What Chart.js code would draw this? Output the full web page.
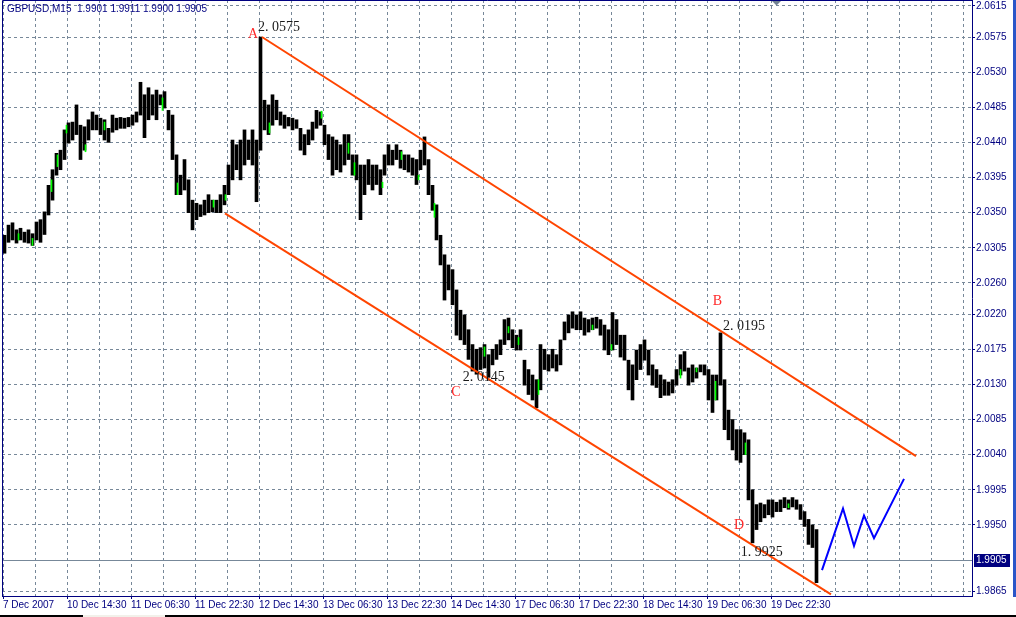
<!DOCTYPE html>
<html>
<head>
<meta charset="utf-8">
<script src="https://cdn.jsdelivr.net/npm/chart.js@4.4.0/dist/chart.umd.min.js"></script>
<style>
html, body { margin: 0; padding: 0; background: #fff; }
#wrap { width: 1016px; height: 617px; }
</style>
</head>
<body>
<div id="wrap"><canvas id="chart-area" width="1016" height="617"></canvas></div>
<script>
/*---------------------------------
   DATOS
 ----------------------------------*/
var chartTitle = 'GBPUSD,M15  1.9901 1.9911 1.9900 1.9905';
var lastPrice = 1.9905;
var lastPriceLabel = '1.9905';

var xTickLabels = ['7 Dec 2007', '10 Dec 14:30', '11 Dec 06:30', '11 Dec 22:30', '12 Dec 14:30',
    '13 Dec 06:30', '13 Dec 22:30', '14 Dec 14:30', '17 Dec 06:30', '17 Dec 22:30',
    '18 Dec 14:30', '19 Dec 06:30', '19 Dec 22:30'];
var yTickLabels = ['2.0615', '2.0575', '2.0530', '2.0485', '2.0440', '2.0395', '2.0350', '2.0305',
    '2.0260', '2.0220', '2.0175', '2.0130', '2.0085', '2.0040', '1.9995', '1.9950', '1.9865'];

// hourly highs / lows (4 bars per hour)
var hourHigh = [
    2.0321, 2.0334, 2.0337, 2.0328, 2.0330, 2.0325, 2.0328, 2.0323, 2.0338, 2.0341,
    2.0351, 2.0385, 2.0405, 2.0426, 2.0430, 2.0456, 2.0465, 2.0466, 2.0488, 2.0462,
    2.0460, 2.0469, 2.0479, 2.0475, 2.0471, 2.0469, 2.0458, 2.0475, 2.0471, 2.0472,
    2.0471, 2.0472, 2.0475, 2.0479, 2.0517, 2.0501, 2.0510, 2.0501, 2.0507, 2.0501,
    2.0505, 2.0481, 2.0475, 2.0424, 2.0398, 2.0418, 2.0392, 2.0366, 2.0362, 2.0360,
    2.0366, 2.0373, 2.0366, 2.0366, 2.0373, 2.0385, 2.0411, 2.0443, 2.0437, 2.0443,
    2.0456, 2.0443, 2.0456, 2.0443, 2.0575, 2.0494, 2.0488, 2.0501, 2.0494, 2.0479,
    2.0475, 2.0472, 2.0471, 2.0469, 2.0458, 2.0450, 2.0456, 2.0466, 2.0481, 2.0479,
    2.0462, 2.0450, 2.0447, 2.0443, 2.0437, 2.0450, 2.0450, 2.0424, 2.0424, 2.0411,
    2.0411, 2.0418, 2.0411, 2.0411, 2.0405, 2.0424, 2.0437, 2.0430, 2.0437, 2.0430,
    2.0424, 2.0424, 2.0420, 2.0418, 2.0430, 2.0447, 2.0418, 2.0385, 2.0360, 2.0321,
    2.0296, 2.0283, 2.0277, 2.0251, 2.0225, 2.0219, 2.0200, 2.0181, 2.0175, 2.0177,
    2.0181, 2.0168, 2.0175, 2.0181, 2.0187, 2.0213, 2.0215, 2.0200, 2.0193, 2.0200,
    2.0161, 2.0149, 2.0142, 2.0136, 2.0181, 2.0175, 2.0168, 2.0175, 2.0168, 2.0187,
    2.0210, 2.0219, 2.0223, 2.0219, 2.0223, 2.0215, 2.0213, 2.0215, 2.0216, 2.0213,
    2.0206, 2.0200, 2.0222, 2.0213, 2.0193, 2.0193, 2.0161, 2.0155, 2.0174, 2.0181,
    2.0187, 2.0174, 2.0155, 2.0149, 2.0142, 2.0136, 2.0133, 2.0136, 2.0149, 2.0168,
    2.0172, 2.0151, 2.0155, 2.0151, 2.0155, 2.0155, 2.0149, 2.0142, 2.0142, 2.0196,
    2.0136, 2.0097, 2.0085, 2.0072, 2.0072, 2.0068, 2.0059, 1.9995, 1.9976, 1.9978,
    1.9976, 1.9982, 1.9982, 1.9979, 1.9982, 1.9985, 1.9982, 1.9985, 1.9982, 1.9976,
    1.9967, 1.9957, 1.9950, 1.9944
];
var hourLow = [
    2.0298, 2.0312, 2.0315, 2.0311, 2.0315, 2.0312, 2.0311, 2.0308, 2.0315, 2.0312,
    2.0322, 2.0347, 2.0366, 2.0398, 2.0405, 2.0418, 2.0439, 2.0443, 2.0450, 2.0418,
    2.0430, 2.0443, 2.0456, 2.0456, 2.0450, 2.0443, 2.0440, 2.0453, 2.0456, 2.0458,
    2.0458, 2.0460, 2.0462, 2.0466, 2.0475, 2.0446, 2.0469, 2.0475, 2.0469, 2.0488,
    2.0484, 2.0456, 2.0418, 2.0373, 2.0373, 2.0379, 2.0350, 2.0328, 2.0341, 2.0345,
    2.0347, 2.0350, 2.0351, 2.0350, 2.0350, 2.0360, 2.0373, 2.0392, 2.0405, 2.0392,
    2.0411, 2.0418, 2.0411, 2.0364, 2.0430, 2.0456, 2.0450, 2.0462, 2.0469, 2.0462,
    2.0458, 2.0461, 2.0456, 2.0458, 2.0430, 2.0424, 2.0437, 2.0443, 2.0458, 2.0462,
    2.0437, 2.0418, 2.0398, 2.0405, 2.0402, 2.0411, 2.0418, 2.0398, 2.0392, 2.0341,
    2.0373, 2.0386, 2.0379, 2.0386, 2.0373, 2.0398, 2.0411, 2.0411, 2.0418, 2.0407,
    2.0405, 2.0402, 2.0398, 2.0386, 2.0405, 2.0411, 2.0373, 2.0353, 2.0315, 2.0283,
    2.0238, 2.0251, 2.0232, 2.0193, 2.0187, 2.0181, 2.0162, 2.0147, 2.0143, 2.0149,
    2.0151, 2.0139, 2.0155, 2.0162, 2.0168, 2.0181, 2.0187, 2.0177, 2.0174, 2.0174,
    2.0129, 2.0117, 2.0110, 2.0100, 2.0123, 2.0149, 2.0147, 2.0151, 2.0147, 2.0155,
    2.0187, 2.0196, 2.0202, 2.0200, 2.0200, 2.0193, 2.0197, 2.0200, 2.0202, 2.0193,
    2.0174, 2.0168, 2.0174, 2.0181, 2.0165, 2.0161, 2.0123, 2.0110, 2.0136, 2.0149,
    2.0161, 2.0142, 2.0129, 2.0126, 2.0113, 2.0116, 2.0116, 2.0119, 2.0129, 2.0142,
    2.0147, 2.0129, 2.0133, 2.0138, 2.0146, 2.0142, 2.0110, 2.0094, 2.0110, 2.0129,
    2.0072, 2.0059, 2.0046, 2.0033, 2.0030, 2.0040, 1.9982, 1.9927, 1.9944, 1.9954,
    1.9959, 1.9963, 1.9960, 1.9967, 1.9967, 1.9972, 1.9970, 1.9973, 1.9970, 1.9957,
    1.9948, 1.9925, 1.9921, 1.9876
];

// green M15 bars: [bar number, high, low]
var greenBars = [
    [15, 2.0323, 2.0315], [29, 2.0317, 2.0308], [48, 2.0392, 2.0377], [54, 2.0424, 2.0409],
    [63, 2.0462, 2.0452], [82, 2.0437, 2.0428], [101, 2.0466, 2.0456], [159, 2.0497, 2.0481],
    [174, 2.0388, 2.0373], [210, 2.0366, 2.0357], [222, 2.0373, 2.0366], [266, 2.0465, 2.0452],
    [318, 2.0480, 2.0471], [345, 2.0439, 2.0426], [351, 2.0414, 2.0398], [379, 2.0389, 2.0382],
    [398, 2.0428, 2.0418], [415, 2.0398, 2.0392], [431, 2.0362, 2.0344], [481, 2.0178, 2.0166],
    [505, 2.0204, 2.0196], [515, 2.0190, 2.0181], [535, 2.0136, 2.0117], [589, 2.0206, 2.0200],
    [608, 2.0181, 2.0174], [677, 2.0149, 2.0138], [693, 2.0151, 2.0146], [712, 2.0134, 2.0110],
    [742, 2.0055, 2.0040], [785, 1.9977, 1.9972]
];

// trend lines: [bar number, price]
var upperChannel = [[259, 2.0575], [913, 2.0038]];
var lowerChannel = [[222, 2.0349], [828, 1.9861]];
var forecastPath = [[819, 1.9892], [840, 1.9971], [851, 1.9923], [861, 1.9962], [871, 1.9933], [901, 2.0009]];

// wave marks: [text, bar number, price]
var waveLetters = [['A', 250, 2.0578], ['B', 714.5, 2.0236], ['C', 453, 2.0120], ['D', 736, 1.9950]];
var wavePrices = [['2. 0575', 255, 2.0588], ['2. 0195', 720, 2.0205], ['2. 0145', 459.7, 2.0139], ['1. 9925', 737.7, 1.9915]];

/*---------------------------------
   PREPARAR SERIES
 ----------------------------------*/
function toPoint(p) { return { x: p[0], y: p[1] }; }

var priceBars = hourHigh.map(function(h, i) {
    return { x: i * 4 + 1.5, y: [hourLow[i], h] };
});
var greenPoints = greenBars.map(function(g) {
    return { x: g[0] + 0.5, y: [g[2], g[1]] };
});

var NAVY = '#000080';
var GRID = '#778899';
var axisFont = { family: 'Liberation Sans', size: 10 };

/*---------------------------------
   PLUGIN: MARCO, TEXTOS, PRECIO
 ----------------------------------*/
var mtDecor = {
    id: 'mtDecor',
    beforeDatasetsDraw: function(chart) {
        var ctx = chart.ctx, a = chart.chartArea;
        var py = Math.round(chart.scales.y.getPixelForValue(lastPrice)) + 0.5;
        ctx.save();
        ctx.strokeStyle = GRID;
        ctx.lineWidth = 1;
        ctx.beginPath();
        ctx.moveTo(a.left, py);
        ctx.lineTo(a.right, py);
        ctx.stroke();
        ctx.restore();
    },
    afterDatasetsDraw: function(chart) {
        var ctx = chart.ctx, xs = chart.scales.x, ys = chart.scales.y;
        ctx.save();
        ctx.textBaseline = 'middle';
        ctx.font = '14px "Liberation Serif"';
        ctx.fillStyle = '#ff2a2a';
        ctx.textAlign = 'center';
        waveLetters.forEach(function(w) {
            ctx.fillText(w[0], xs.getPixelForValue(w[1]), ys.getPixelForValue(w[2]));
        });
        ctx.fillStyle = '#1a1a1a';
        ctx.textAlign = 'left';
        wavePrices.forEach(function(w) {
            ctx.fillText(w[0], xs.getPixelForValue(w[1]), ys.getPixelForValue(w[2]));
        });
        ctx.restore();
    },
    afterDraw: function(chart) {
        var ctx = chart.ctx, a = chart.chartArea;
        ctx.save();
        // frame
        ctx.strokeStyle = NAVY;
        ctx.lineWidth = 1;
        ctx.beginPath();
        ctx.moveTo(a.left + 0.5, a.bottom);
        ctx.lineTo(a.left + 0.5, 0.5);
        ctx.lineTo(a.right, 0.5);
        ctx.stroke();
        // title
        ctx.fillStyle = NAVY;
        ctx.font = '10px "Liberation Sans"';
        ctx.textBaseline = 'middle';
        ctx.textAlign = 'left';
        ctx.fillText(chartTitle, 7, 9);
        // shift marker
        ctx.fillStyle = '#708090';
        ctx.beginPath();
        ctx.moveTo(772, 1);
        ctx.lineTo(781, 1);
        ctx.lineTo(776.5, 5.5);
        ctx.closePath();
        ctx.fill();
        // current price box
        var py = Math.round(chart.scales.y.getPixelForValue(lastPrice));
        ctx.fillStyle = NAVY;
        ctx.fillRect(a.right + 2, py - 6, 36, 13);
        ctx.fillStyle = '#ffffff';
        ctx.fillText(lastPriceLabel, a.right + 4, py + 0.5);
        // window edges
        ctx.fillStyle = '#2a56c8';
        ctx.fillRect(1013, 0, 3, 597);
        ctx.fillStyle = '#000000';
        ctx.fillRect(0, 615, 1016, 2);
        ctx.fillStyle = '#f2f1ea';
        ctx.fillRect(83, 615, 82, 2);
        ctx.restore();
    }
};

/*---------------------------------
   CONFIG
 ----------------------------------*/
var config = {
    type: 'bar',
    data: {
        datasets: [{
            type: 'line',
            data: forecastPath.map(toPoint),
            borderColor: '#0000ff',
            borderWidth: 2,
            pointRadius: 0,
            tension: 0,
            order: 0
        }, {
            type: 'line',
            data: upperChannel.map(toPoint),
            borderColor: '#ff4500',
            borderWidth: 2,
            pointRadius: 0,
            order: 1
        }, {
            type: 'line',
            data: lowerChannel.map(toPoint),
            borderColor: '#ff4500',
            borderWidth: 2,
            pointRadius: 0,
            order: 1
        }, {
            data: greenPoints,
            backgroundColor: '#00ff00',
            barThickness: 1,
            grouped: false,
            order: 2
        }, {
            data: priceBars,
            backgroundColor: '#000000',
            barThickness: 3,
            grouped: false,
            order: 3
        }]
    },
    options: {
        responsive: false,
        animation: false,
        devicePixelRatio: 1,
        layout: { padding: { left: 2, top: 0, right: 0, bottom: 0 } },
        plugins: {
            legend: { display: false },
            tooltip: { enabled: false }
        },
        scales: {
            x: {
                type: 'linear',
                min: -1,
                max: 969,
                offset: false,
                afterBuildTicks: function(scale) {
                    var t = [];
                    for (var k = 0; k * 32 <= 960; k++) t.push({ value: k * 32 });
                    scale.ticks = t;
                },
                afterFit: function(scale) {
                    scale.height = 21;
                    scale.paddingLeft = 0;
                    scale.paddingRight = 0;
                },
                ticks: {
                    autoSkip: false,
                    maxRotation: 0,
                    minRotation: 0,
                    align: 'start',
                    padding: 0,
                    color: NAVY,
                    font: axisFont,
                    callback: function(v, i) {
                        return (i % 2 === 0 && xTickLabels[i / 2]) ? xTickLabels[i / 2] : '';
                    }
                },
                grid: {
                    offset: false,
                    color: GRID,
                    tickLength: 3,
                    tickColor: function(c) {
                        return (c.index % 2 === 0 && xTickLabels[c.index / 2]) ? NAVY : 'rgba(0,0,0,0)';
                    }
                },
                border: { color: NAVY, dash: [3, 3] }
            },
            y: {
                type: 'linear',
                position: 'right',
                min: 1.98589,
                max: 2.06224,
                afterBuildTicks: function(scale) {
                    scale.ticks = yTickLabels.map(function(s) { return { value: parseFloat(s) }; });
                },
                afterFit: function(scale) {
                    scale.width = 44;
                    scale.paddingTop = 0;
                    scale.paddingBottom = 0;
                },
                ticks: {
                    padding: 1,
                    color: NAVY,
                    font: axisFont,
                    callback: function(v, i) { return yTickLabels[i]; }
                },
                grid: { color: GRID, tickLength: 3, tickColor: NAVY },
                border: { color: NAVY, dash: [3, 3] }
            }
        }
    },
    plugins: [mtDecor]
};

window.onload = function() {
    var ctx = document.getElementById('chart-area').getContext('2d');
    window.myChart = new Chart(ctx, config);
};
</script>
</body>
</html>
